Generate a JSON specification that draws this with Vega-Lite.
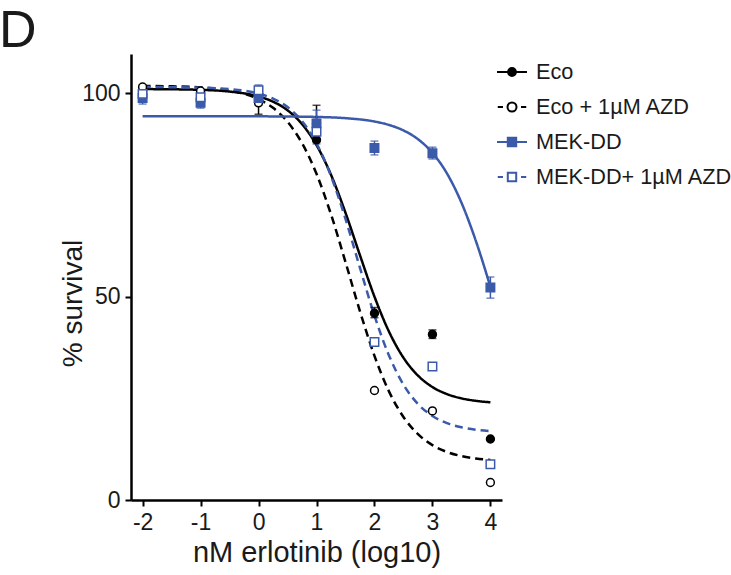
{
  "$schema": "https://vega.github.io/schema/vega-lite/v6.json",
  "width": 371,
  "height": 446,
  "autosize": {"type": "none"},
  "padding": {"left": 131, "top": 54, "right": 229, "bottom": 75},
  "background": "white",
  "config": {"view": {"stroke": null}, "font": "Liberation Sans"},
  "title": {"text": "D", "anchor": "start", "frame": "group", "fontSize": 52, "fontWeight": "normal", "color": "#1a1a1a", "dx": -132, "dy": 47, "offset": 2, "baseline": "alphabetic"},
  "datasets": {
    "curves": [
      {"series": "Eco", "x": -2, "y": 100.98}, {"series": "Eco", "x": -1.5, "y": 100.93}, {"series": "Eco", "x": -1, "y": 100.79}, {"series": "Eco", "x": -0.5, "y": 100.37}, {"series": "Eco", "x": 0, "y": 99.16}, {"series": "Eco", "x": 0.25, "y": 97.88}, {"series": "Eco", "x": 0.5, "y": 95.77}, {"series": "Eco", "x": 0.75, "y": 92.38}, {"series": "Eco", "x": 1, "y": 87.22}, {"series": "Eco", "x": 1.25, "y": 79.92}, {"series": "Eco", "x": 1.5, "y": 70.59}, {"series": "Eco", "x": 1.75, "y": 60.13}, {"series": "Eco", "x": 2, "y": 49.97}, {"series": "Eco", "x": 2.25, "y": 41.39}, {"series": "Eco", "x": 2.5, "y": 34.97}, {"series": "Eco", "x": 2.75, "y": 30.58}, {"series": "Eco", "x": 3, "y": 27.76}, {"series": "Eco", "x": 3.25, "y": 26.03}, {"series": "Eco", "x": 3.5, "y": 24.98}, {"series": "Eco", "x": 3.75, "y": 24.37}, {"series": "Eco", "x": 4, "y": 24.0},
      {"series": "Eco + 1µM AZD", "x": -2, "y": 101.75}, {"series": "Eco + 1µM AZD", "x": -1.5, "y": 101.66}, {"series": "Eco + 1µM AZD", "x": -1, "y": 101.39}, {"series": "Eco + 1µM AZD", "x": -0.5, "y": 100.64}, {"series": "Eco + 1µM AZD", "x": 0, "y": 98.52}, {"series": "Eco + 1µM AZD", "x": 0.25, "y": 96.37}, {"series": "Eco + 1µM AZD", "x": 0.5, "y": 92.94}, {"series": "Eco + 1µM AZD", "x": 0.75, "y": 87.7}, {"series": "Eco + 1µM AZD", "x": 1, "y": 80.16}, {"series": "Eco + 1µM AZD", "x": 1.25, "y": 70.2}, {"series": "Eco + 1µM AZD", "x": 1.5, "y": 58.48}, {"series": "Eco + 1µM AZD", "x": 1.75, "y": 46.36}, {"series": "Eco + 1µM AZD", "x": 2, "y": 35.42}, {"series": "Eco + 1µM AZD", "x": 2.25, "y": 26.7}, {"series": "Eco + 1µM AZD", "x": 2.5, "y": 20.41}, {"series": "Eco + 1µM AZD", "x": 2.75, "y": 16.18}, {"series": "Eco + 1µM AZD", "x": 3, "y": 13.48}, {"series": "Eco + 1µM AZD", "x": 3.25, "y": 11.81}, {"series": "Eco + 1µM AZD", "x": 3.5, "y": 10.79}, {"series": "Eco + 1µM AZD", "x": 3.75, "y": 10.19}, {"series": "Eco + 1µM AZD", "x": 4, "y": 9.82},
      {"series": "MEK-DD", "x": -2, "y": 94.3}, {"series": "MEK-DD", "x": -1, "y": 94.3}, {"series": "MEK-DD", "x": 0, "y": 94.28}, {"series": "MEK-DD", "x": 0.5, "y": 94.24}, {"series": "MEK-DD", "x": 1, "y": 94.13}, {"series": "MEK-DD", "x": 1.5, "y": 93.83}, {"series": "MEK-DD", "x": 2, "y": 93.01}, {"series": "MEK-DD", "x": 2.25, "y": 92.17}, {"series": "MEK-DD", "x": 2.5, "y": 90.82}, {"series": "MEK-DD", "x": 2.75, "y": 88.67}, {"series": "MEK-DD", "x": 3, "y": 85.31}, {"series": "MEK-DD", "x": 3.25, "y": 80.26}, {"series": "MEK-DD", "x": 3.5, "y": 73.08}, {"series": "MEK-DD", "x": 3.75, "y": 63.63}, {"series": "MEK-DD", "x": 4, "y": 52.39},
      {"series": "MEK-DD+ 1µM AZD", "x": -2, "y": 101.48}, {"series": "MEK-DD+ 1µM AZD", "x": -1.5, "y": 101.45}, {"series": "MEK-DD+ 1µM AZD", "x": -1, "y": 101.33}, {"series": "MEK-DD+ 1µM AZD", "x": -0.5, "y": 100.98}, {"series": "MEK-DD+ 1µM AZD", "x": 0, "y": 99.87}, {"series": "MEK-DD+ 1µM AZD", "x": 0.25, "y": 98.65}, {"series": "MEK-DD+ 1µM AZD", "x": 0.5, "y": 96.56}, {"series": "MEK-DD+ 1µM AZD", "x": 0.75, "y": 93.1}, {"series": "MEK-DD+ 1µM AZD", "x": 1, "y": 87.63}, {"series": "MEK-DD+ 1µM AZD", "x": 1.25, "y": 79.62}, {"series": "MEK-DD+ 1µM AZD", "x": 1.5, "y": 69.08}, {"series": "MEK-DD+ 1µM AZD", "x": 1.75, "y": 57.04}, {"series": "MEK-DD+ 1µM AZD", "x": 2, "y": 45.31}, {"series": "MEK-DD+ 1µM AZD", "x": 2.25, "y": 35.53}, {"series": "MEK-DD+ 1µM AZD", "x": 2.5, "y": 28.36}, {"series": "MEK-DD+ 1µM AZD", "x": 2.75, "y": 23.6}, {"series": "MEK-DD+ 1µM AZD", "x": 3, "y": 20.65}, {"series": "MEK-DD+ 1µM AZD", "x": 3.25, "y": 18.88}, {"series": "MEK-DD+ 1µM AZD", "x": 3.5, "y": 17.86}, {"series": "MEK-DD+ 1µM AZD", "x": 3.75, "y": 17.27}, {"series": "MEK-DD+ 1µM AZD", "x": 4, "y": 16.93}
    ],
    "points": [
      {"series": "Eco", "x": -2, "y": 100.5}, {"series": "Eco", "x": -1, "y": 100.0}, {"series": "Eco", "x": 0, "y": 99.5}, {"series": "Eco", "x": 1, "y": 88.5}, {"series": "Eco", "x": 2, "y": 45.9}, {"series": "Eco", "x": 3, "y": 40.7}, {"series": "Eco", "x": 4, "y": 15.0},
      {"series": "Eco + 1µM AZD", "x": -2, "y": 101.5}, {"series": "Eco + 1µM AZD", "x": -1, "y": 100.5}, {"series": "Eco + 1µM AZD", "x": 0, "y": 97.6}, {"series": "Eco + 1µM AZD", "x": 1, "y": 92.5}, {"series": "Eco + 1µM AZD", "x": 2, "y": 26.9}, {"series": "Eco + 1µM AZD", "x": 3, "y": 21.9}, {"series": "Eco + 1µM AZD", "x": 4, "y": 4.3},
      {"series": "MEK-DD", "x": -2, "y": 98.8}, {"series": "MEK-DD", "x": -1, "y": 97.6}, {"series": "MEK-DD", "x": 0, "y": 98.8}, {"series": "MEK-DD", "x": 1, "y": 92.5}, {"series": "MEK-DD", "x": 2, "y": 86.5}, {"series": "MEK-DD", "x": 3, "y": 85.2}, {"series": "MEK-DD", "x": 4, "y": 52.2},
      {"series": "MEK-DD+ 1µM AZD", "x": -2, "y": 99.8}, {"series": "MEK-DD+ 1µM AZD", "x": -1, "y": 99.0}, {"series": "MEK-DD+ 1µM AZD", "x": 0, "y": 100.7}, {"series": "MEK-DD+ 1µM AZD", "x": 1, "y": 90.5}, {"series": "MEK-DD+ 1µM AZD", "x": 2, "y": 38.8}, {"series": "MEK-DD+ 1µM AZD", "x": 3, "y": 32.8}, {"series": "MEK-DD+ 1µM AZD", "x": 4, "y": 8.8}
    ],
    "errs": [
      {"series": "Eco + 1µM AZD", "x": -2, "lo": 100.8, "hi": 102.0},
      {"series": "Eco + 1µM AZD", "x": 0, "lo": 94.8, "hi": 100.4},
      {"series": "Eco + 1µM AZD", "x": 1, "lo": 88.0, "hi": 97.0},
      {"series": "Eco", "x": 2, "lo": 44.8, "hi": 47.3},
      {"series": "Eco", "x": 3, "lo": 39.7, "hi": 41.8},
      {"series": "MEK-DD", "x": -2, "lo": 97.3, "hi": 100.3},
      {"series": "MEK-DD", "x": -1, "lo": 96.3, "hi": 99.0},
      {"series": "MEK-DD", "x": 0, "lo": 97.0, "hi": 100.6},
      {"series": "MEK-DD", "x": 1, "lo": 90.0, "hi": 95.8},
      {"series": "MEK-DD", "x": 2, "lo": 84.8, "hi": 88.2},
      {"series": "MEK-DD", "x": 3, "lo": 83.8, "hi": 86.7},
      {"series": "MEK-DD", "x": 4, "lo": 49.6, "hi": 54.8},
      {"series": "MEK-DD+ 1µM AZD", "x": -2, "lo": 98.5, "hi": 101.0},
      {"series": "MEK-DD+ 1µM AZD", "x": -1, "lo": 97.5, "hi": 100.5},
      {"series": "MEK-DD+ 1µM AZD", "x": 0, "lo": 99.5, "hi": 102.0},
      {"series": "MEK-DD+ 1µM AZD", "x": 1, "lo": 87.5, "hi": 93.5}
    ]
  },
  "encoding": {
    "x": {"field": "x", "type": "quantitative",
      "scale": {"domain": [-2.2, 4.2], "nice": false, "zero": false},
      "axis": {"values": [-2, -1, 0, 1, 2, 3, 4], "labelExpr": "'' + datum.value", "title": "nM erlotinib (log10)", "grid": false,
        "domainColor": "#000000", "domainWidth": 2.5, "tickColor": "#000000", "tickWidth": 2, "tickSize": 6,
        "labelFontSize": 23, "labelColor": "#1a1a1a", "labelBaseline": "alphabetic", "labelPadding": 23, "labelFlush": false,
        "titleFontSize": 29, "titleFontWeight": "normal", "titleColor": "#1a1a1a", "titleBaseline": "alphabetic", "titleY": 61}}
  },
  "layer": [
    {
      "data": {"name": "curves"},
      "mark": {"type": "line", "interpolate": "monotone", "strokeWidth": 2.5},
      "encoding": {
        "y": {"field": "y", "type": "quantitative",
          "scale": {"domain": [0, 109.6], "nice": false},
          "axis": {"values": [0, 50, 100], "title": "% survival", "grid": false,
            "domainColor": "#000000", "domainWidth": 2.5, "tickColor": "#000000", "tickWidth": 2, "tickSize": 6,
            "labelFontSize": 23, "labelColor": "#1a1a1a", "labelPadding": 5,
            "titleFontSize": 28, "titleFontWeight": "normal", "titleColor": "#1a1a1a", "titleBaseline": "alphabetic", "titleX": -50, "titleY": 249}},
        "color": {"field": "series", "type": "nominal", "legend": null,
          "scale": {"domain": ["MEK-DD+ 1µM AZD", "MEK-DD", "Eco + 1µM AZD", "Eco"], "range": ["#3b5aa9", "#3b5aa9", "#000000", "#000000"]}},
        "strokeDash": {"field": "series", "type": "nominal", "legend": null,
          "scale": {"domain": ["Eco", "MEK-DD", "Eco + 1µM AZD", "MEK-DD+ 1µM AZD"], "range": [[1, 0], [1, 0], [8, 5], [8, 5]]}}
      }
    },
    {
      "data": {"name": "errs"},
      "mark": {"type": "rule", "strokeWidth": 1.5},
      "encoding": {
        "y": {"field": "lo", "type": "quantitative"},
        "y2": {"field": "hi"},
        "color": {"field": "series", "type": "nominal", "legend": null}
      }
    },
    {
      "data": {"name": "errs"},
      "mark": {"type": "tick", "orient": "horizontal", "size": 8, "thickness": 1.5},
      "encoding": {
        "y": {"field": "lo", "type": "quantitative"},
        "color": {"field": "series", "type": "nominal", "legend": null}
      }
    },
    {
      "data": {"name": "errs"},
      "mark": {"type": "tick", "orient": "horizontal", "size": 8, "thickness": 1.5},
      "encoding": {
        "y": {"field": "hi", "type": "quantitative"},
        "color": {"field": "series", "type": "nominal", "legend": null}
      }
    },
    {
      "data": {"name": "points"},
      "transform": [{"filter": {"field": "series", "oneOf": ["Eco", "Eco + 1µM AZD"]}}],
      "mark": {"type": "point", "shape": "circle", "size": 62, "strokeWidth": 1.5, "opacity": 1},
      "encoding": {
        "y": {"field": "y", "type": "quantitative"},
        "fill": {"field": "series", "type": "nominal",
          "scale": {"domain": ["Eco", "Eco + 1µM AZD", "MEK-DD", "MEK-DD+ 1µM AZD"], "range": ["#000000", "#ffffff", "#3b5aa9", "#ffffff"]}},
        "stroke": {"field": "series", "type": "nominal",
          "scale": {"domain": ["Eco", "Eco + 1µM AZD", "MEK-DD", "MEK-DD+ 1µM AZD"], "range": ["#000000", "#000000", "#3b5aa9", "#3b5aa9"]}}
      }
    },
    {
      "data": {"name": "points"},
      "transform": [{"filter": {"field": "series", "oneOf": ["MEK-DD", "MEK-DD+ 1µM AZD"]}}],
      "mark": {"type": "point", "shape": "square", "size": 72, "strokeWidth": 1.5, "opacity": 1},
      "encoding": {
        "y": {"field": "y", "type": "quantitative"},
        "fill": {"field": "series", "type": "nominal"},
        "stroke": {"field": "series", "type": "nominal"}
      }
    },
    {
      "data": {"name": "points"},
      "transform": [{"filter": "false"}],
      "mark": {"type": "point", "size": 900, "strokeWidth": 2},
      "encoding": {
        "y": {"field": "y", "type": "quantitative"},
        "fill": {"field": "series", "type": "nominal",
          "legend": {"orient": "none", "legendX": 365, "legendY": 2, "title": null, "padding": 0, "symbolSize": 900, "symbolStrokeWidth": 2, "labelFontSize": 21.7, "labelColor": "#1a1a1a", "labelOffset": 8, "rowPadding": 7, "labelLimit": 300}},
        "stroke": {"field": "series", "type": "nominal",
          "legend": {"orient": "none", "legendX": 365, "legendY": 2, "title": null, "padding": 0, "symbolSize": 900, "symbolStrokeWidth": 2, "labelFontSize": 21.7, "labelColor": "#1a1a1a", "labelOffset": 8, "rowPadding": 7, "labelLimit": 300}},
        "shape": {"field": "series", "type": "nominal",
          "scale": {"domain": ["Eco", "Eco + 1µM AZD", "MEK-DD", "MEK-DD+ 1µM AZD"],
            "range": [
              "M-1,0H1M-0.26,0A0.26,0.26,0,1,1,0.26,0A0.26,0.26,0,1,1,-0.26,0Z",
              "M-0.95,0H-0.6M0.6,0H0.95M-0.3,0A0.3,0.3,0,1,1,0.3,0A0.3,0.3,0,1,1,-0.3,0Z",
              "M-1,0H1M-0.28,-0.28H0.28V0.28H-0.28Z",
              "M-0.95,0H-0.6M0.6,0H0.95M-0.28,-0.28H0.28V0.28H-0.28Z"
            ]},
          "legend": {"orient": "none", "legendX": 365, "legendY": 2, "title": null, "padding": 0, "symbolSize": 900, "symbolStrokeWidth": 2, "labelFontSize": 21.7, "labelColor": "#1a1a1a", "labelOffset": 8, "rowPadding": 7, "labelLimit": 300}}
      }
    }
  ]
}
